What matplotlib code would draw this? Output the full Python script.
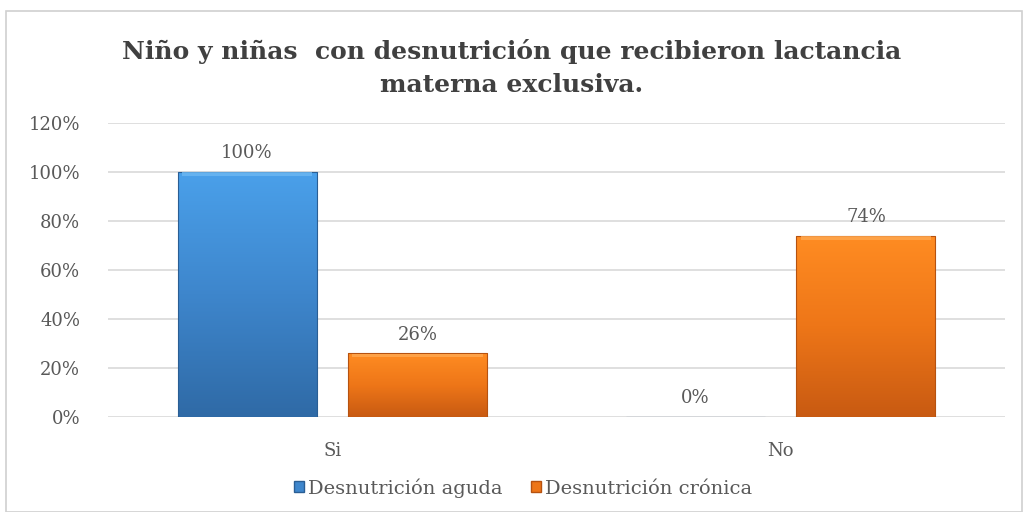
import numpy as np
import matplotlib.pyplot as plt
from matplotlib.patches import Rectangle
from matplotlib.colors import LinearSegmentedColormap

# datos
categorias = ["Si", "No"]
series = ["Desnutrición aguda", "Desnutrición crónica"]
aguda = [100, 0]
cronica = [26, 74]
yticks = [0, 20, 40, 60, 80, 100, 120]

plt.rcParams['font.family'] = ['DejaVu Serif', 'Liberation Serif']

fig = plt.figure(figsize=(10.24, 5.12), dpi=100)
ax = fig.add_axes([108 / 1024, 95 / 512, 897 / 1024, 294 / 512])

# marco del gráfico
fig.patches.append(Rectangle((6 / 1024, 0.5 / 512), 1016 / 1024, 501 / 512,
                             transform=fig.transFigure, fill=False,
                             edgecolor='#D0D0D0', linewidth=1.2))

x = np.arange(len(categorias))
ancho = 0.31
desp = 0.19

grad_azul = LinearSegmentedColormap.from_list('az', ['#2F6AA6', '#3E86CC', '#4AA0EA'])
grad_naranja = LinearSegmentedColormap.from_list('na', ['#C85A12', '#EE7618', '#FF8C22'])


def barras_gradiente(pos, valores, cmap, borde, brillo):
    barras = ax.bar(pos, valores, width=ancho, color='none', edgecolor=borde,
                    linewidth=0.8, zorder=3)
    grad = np.linspace(0, 1, 256).reshape(-1, 1)
    for b in barras:
        h = b.get_height()
        if h <= 0:
            continue
        x0 = b.get_x()
        w = b.get_width()
        im = ax.imshow(grad, cmap=cmap, aspect='auto', origin='lower',
                       extent=(x0, x0 + w, 0, h), zorder=2)
        im.set_clip_path(b)
        # borde superior biselado
        ax.add_patch(Rectangle((x0 + w * 0.03, h - 1.6), w * 0.94, 1.4,
                               facecolor=brillo, edgecolor='none',
                               alpha=0.8, zorder=3))
    return barras


barras_gradiente(x - desp, aguda, grad_azul, '#2A5E94', '#6DB8F2')
barras_gradiente(x + desp, cronica, grad_naranja, '#B65210', '#FFA850')

# etiquetas de valor
for xi, v in zip(x - desp, aguda):
    ax.text(xi, v + 4, f"{v}%", ha='center', va='bottom', fontsize=13,
            color='#595959', zorder=4)
for xi, v in zip(x + desp, cronica):
    ax.text(xi, v + 4, f"{v}%", ha='center', va='bottom', fontsize=13,
            color='#595959', zorder=4)

ax.set_xlim(-0.5, 1.5)
ax.set_ylim(0, 120)
ax.set_yticks(yticks)
ax.set_yticklabels([f"{t}%" for t in yticks])
ax.set_xticks(x)
ax.set_xticklabels(categorias)
ax.tick_params(axis='both', length=0, labelsize=13, colors='#595959')
ax.tick_params(axis='y', pad=20)
ax.tick_params(axis='x', pad=18)
ax.grid(axis='y', color='#D9D9D9', linewidth=1.2, zorder=0)
ax.set_axisbelow(True)
for s in ax.spines.values():
    s.set_visible(False)

fig.text(0.5, 444 / 512, "Niño y niñas  con desnutrición que recibieron lactancia\nmaterna exclusiva.",
         ha='center', va='center', fontsize=18, fontweight='bold', color='#404040',
         linespacing=1.5)

# leyenda
h1 = Rectangle((0, 0), 1, 1, facecolor='#3E86CC', edgecolor='#2A5E94')
h2 = Rectangle((0, 0), 1, 1, facecolor='#EE7618', edgecolor='#B65210')
fig.legend([h1, h2], series, loc='center', bbox_to_anchor=(523 / 1024, 24 / 512),
           ncol=2, frameon=False, fontsize=14, labelcolor='#595959',
           handlelength=0.5, handleheight=0.5, handletextpad=0.2, columnspacing=1.5)

fig.savefig('out.png', dpi=100)
